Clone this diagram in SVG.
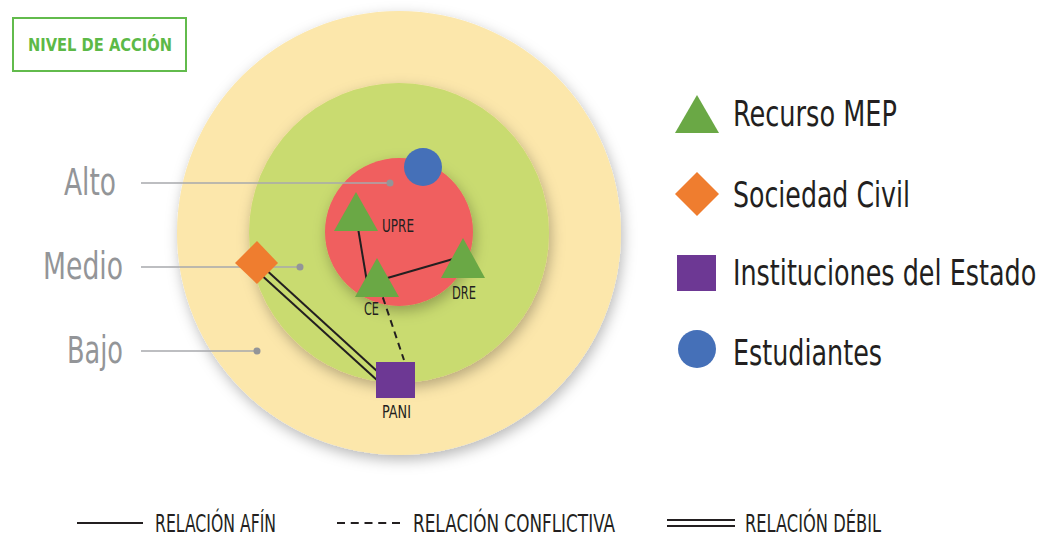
<svg xmlns="http://www.w3.org/2000/svg" width="1047" height="536" viewBox="0 0 1047 536">
<defs>
<filter id="sh" x="-20%" y="-20%" width="140%" height="140%">
<feDropShadow dx="2" dy="5" stdDeviation="7" flood-color="#000" flood-opacity="0.28"/>
</filter>
<style>
.t{font-family:"Liberation Sans Narrow","DejaVu Sans Condensed","Liberation Sans",sans-serif;font-stretch:condensed}
.lvl{fill:#939598;font-size:37px}
.leg{fill:#231f20;font-size:36px}
.nl{fill:#231f20;font-size:17px}
.bl{fill:#231f20;font-size:25px}
.lead{stroke:#a7a9ac;stroke-width:1.5;fill:none}
.dot{fill:#939598}
.tri{fill:#6aa845}
.c{stroke:#231f20;stroke-width:2;fill:none}
.d{stroke-dasharray:7 5}
</style>
</defs>
<rect width="1047" height="536" fill="#fff"/>
<g id="levels">
<circle cx="399" cy="233" r="222" fill="#fce7ab" filter="url(#sh)"/>
<circle cx="399" cy="233" r="150" fill="#c9db6f" filter="url(#sh)"/>
<circle cx="399" cy="232" r="74" fill="#f05e5f" filter="url(#sh)"/>
</g>
<g id="title">
<rect x="13" y="18" width="173" height="53" fill="none" stroke="#62bb4c" stroke-width="2"/>
<text class="t" x="28" y="51" font-size="17" font-weight="bold" fill="#5cb947" textLength="144" lengthAdjust="spacingAndGlyphs">NIVEL DE ACCIÓN</text>
</g>
<g id="level-labels">
<text class="t lvl" x="64" y="195" textLength="52" lengthAdjust="spacingAndGlyphs">Alto</text>
<text class="t lvl" x="43" y="279" textLength="80" lengthAdjust="spacingAndGlyphs">Medio</text>
<text class="t lvl" x="67" y="363" textLength="56" lengthAdjust="spacingAndGlyphs">Bajo</text>
<line class="lead" x1="141" y1="183" x2="390" y2="183"/>
<circle class="dot" cx="390" cy="183" r="3.5"/>
<line class="lead" x1="141" y1="267" x2="300" y2="267"/>
<circle class="dot" cx="300" cy="267" r="3.5"/>
<line class="lead" x1="141" y1="351" x2="257" y2="351"/>
<circle class="dot" cx="257" cy="351" r="3.5"/>
</g>
<g id="connectors">
<line class="c" x1="357" y1="222" x2="367" y2="282"/>
<line class="c" x1="377" y1="281" x2="460" y2="257"/>
<line class="c d" x1="379" y1="286" x2="404" y2="360"/>
<line class="c" x1="263" y1="267" x2="378" y2="372"/>
<line class="c" x1="258" y1="272" x2="378" y2="381"/>
</g>
<g id="node-students">
<circle cx="423" cy="167" r="19" fill="#4570b8"/>
</g>
<g id="node-upre">
<polygon class="tri" points="356,192 378,231 334,231"/>
<text class="t nl" x="382" y="232" textLength="32" lengthAdjust="spacingAndGlyphs">UPRE</text>
</g>
<g id="node-ce">
<polygon class="tri" points="377,258 399,297 355,297"/>
<text class="t nl" x="364" y="315" textLength="15" lengthAdjust="spacingAndGlyphs">CE</text>
</g>
<g id="node-dre">
<polygon class="tri" points="463,238 485,278 441,278"/>
<text class="t nl" x="452" y="299" textLength="24" lengthAdjust="spacingAndGlyphs">DRE</text>
</g>
<g id="node-civil">
<polygon points="257,241 278,263 257,284 235,263" fill="#ef7d2f"/>
</g>
<g id="node-pani">
<rect x="376" y="362" width="39" height="36" fill="#6d3894"/>
<text class="t nl" x="382" y="418" textLength="29" lengthAdjust="spacingAndGlyphs">PANI</text>
</g>
<g id="legend">
<polygon class="tri" points="697,95 719,133 675,133"/>
<text class="t leg" x="733" y="126" textLength="164" lengthAdjust="spacingAndGlyphs">Recurso MEP</text>
<polygon points="697,172 719,194 697,216 675,194" fill="#ef7d2f"/>
<text class="t leg" x="733" y="207" textLength="177" lengthAdjust="spacingAndGlyphs">Sociedad Civil</text>
<rect x="677" y="255" width="39" height="36" fill="#6d3894"/>
<text class="t leg" transform="translate(733 285) scale(0.8 1)" x="0" y="0" textLength="379" lengthAdjust="spacingAndGlyphs">Instituciones del Estado</text>
<circle cx="697" cy="349" r="19" fill="#4570b8"/>
<text class="t leg" x="733" y="365" textLength="149" lengthAdjust="spacingAndGlyphs">Estudiantes</text>
</g>
<g id="relation-legend">
<line class="c" x1="77" y1="523" x2="143" y2="523"/>
<text class="t bl" x="155" y="532" textLength="121" lengthAdjust="spacingAndGlyphs">RELACIÓN AFÍN</text>
<line class="c" x1="337" y1="523" x2="400" y2="523" stroke-dasharray="8 5.75"/>
<text class="t bl" x="413" y="532" textLength="202" lengthAdjust="spacingAndGlyphs">RELACIÓN CONFLICTIVA</text>
<line class="c" x1="667" y1="520" x2="735" y2="520"/>
<line class="c" x1="667" y1="526" x2="735" y2="526"/>
<text class="t bl" x="745" y="532" textLength="136" lengthAdjust="spacingAndGlyphs">RELACIÓN DÉBIL</text>
</g>
</svg>
